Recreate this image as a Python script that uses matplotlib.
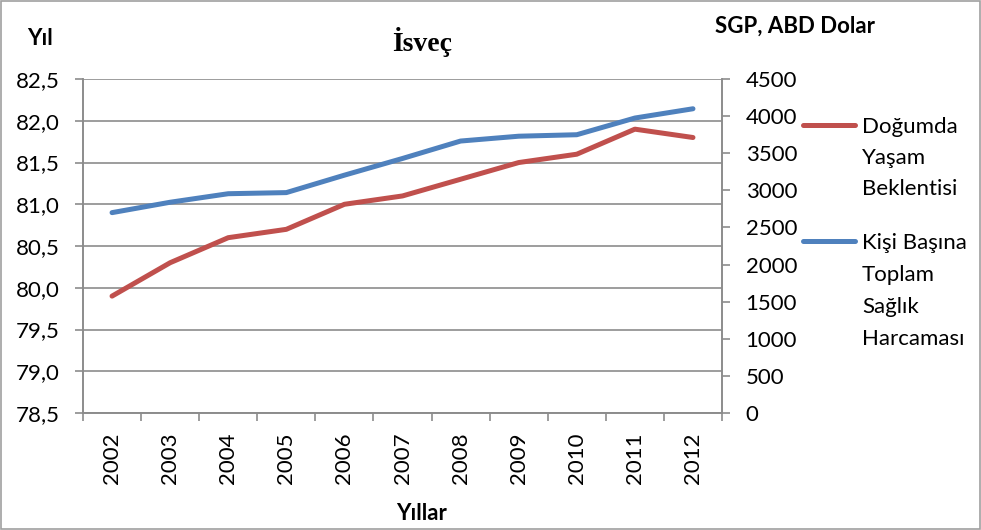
import matplotlib.pyplot as plt
from matplotlib.lines import Line2D
from matplotlib.patches import Rectangle

# ─── DATA ──────────────────────────────────────────────────────────────────────
YEARS = ["2002", "2003", "2004", "2005", "2006", "2007",
         "2008", "2009", "2010", "2011", "2012"]
LIFE_EXP = [79.9, 80.3, 80.6, 80.7, 81.0, 81.1, 81.3, 81.5, 81.6, 81.9, 81.8]
HEALTH_SPEND = [2700, 2840, 2955, 2970, 3205, 3430, 3665, 3730, 3750, 3975, 4100]
LEFT_TICKS = [78.5, 79.0, 79.5, 80.0, 80.5, 81.0, 81.5, 82.0, 82.5]
RIGHT_TICKS = list(range(0, 4501, 500))
LABEL_LIFE = ["Doğumda", "Yaşam", "Beklentisi"]
LABEL_SPEND = ["Kişi Başına", "Toplam", "Sağlık", "Harcaması"]
# ────────────────────────────────────────────────────────────────────────────────

RED = "#C0504D"
BLUE = "#4F81BD"
GRID = "#8C8C8C"
FONT = ["Lato", "DejaVu Sans"]
FS = 16

plt.rcParams["font.family"] = FONT
plt.rcParams["font.size"] = FS

fig = plt.figure(figsize=(9.81, 5.30), dpi=100)
fig.patches.append(Rectangle((0.001, 0.001), 0.998, 0.998, transform=fig.transFigure,
                             fill=False, edgecolor="#A0A0A0", lw=1.2))

ax = fig.add_axes([0.0846, 0.2208, 0.6514, 0.630])
ax2 = ax.twinx()

x = list(range(len(YEARS)))
ax.plot(x, LIFE_EXP, color=RED, lw=3.6, solid_capstyle="round", zorder=3)
ax2.plot(x, HEALTH_SPEND, color=BLUE, lw=3.6, solid_capstyle="round", zorder=3)

ax.set_xlim(-0.5, len(YEARS) - 0.5)
ax.set_ylim(LEFT_TICKS[0], LEFT_TICKS[-1])
ax2.set_ylim(RIGHT_TICKS[0], RIGHT_TICKS[-1])

ax.set_yticks(LEFT_TICKS)
ax.set_yticklabels([f"{v:.1f}".replace(".", ",") for v in LEFT_TICKS])
ax2.set_yticks(RIGHT_TICKS)
ax2.set_yticklabels([str(v) for v in RIGHT_TICKS])

# category labels between boundary ticks, like Excel
ax.set_xticks(x)
ax.set_xticklabels(YEARS, rotation=90)
ax.tick_params(axis="x", length=0, pad=14)
ax.set_xticks([i - 0.5 for i in range(len(YEARS) + 1)], minor=True)
ax.tick_params(axis="x", which="minor", length=6, color=GRID, width=1.2)

ax.yaxis.grid(True, color=GRID, lw=1.2)
ax.set_axisbelow(True)
ax.tick_params(axis="y", length=6, color=GRID, width=1.2, pad=11)
ax2.tick_params(axis="y", length=6, color=GRID, width=1.2, pad=11)

for a in (ax, ax2):
    a.spines["top"].set_visible(False)
    for side in ("left", "right", "bottom"):
        a.spines[side].set_color(GRID)
        a.spines[side].set_linewidth(1.2)

fig.text(0.041, 0.928, "Yıl", fontsize=FS, fontweight="bold", ha="center", va="center")
fig.text(0.43, 0.92, "İsveç", fontsize=20, fontweight="bold",
         family=["Liberation Serif", "DejaVu Serif"], ha="center", va="center")
fig.text(0.81, 0.95, "SGP, ABD Dolar", fontsize=FS, fontweight="bold", ha="center", va="center")
fig.text(0.43, 0.032, "Yıllar", fontsize=FS, fontweight="bold", ha="center", va="center")

# legend drawn by hand: swatch aligned with first line of a wrapped label
def legend_entry(y_first, color, lines, step=31):
    y0 = 1 - y_first / 530
    fig.add_artist(Line2D([803 / 981, 855 / 981], [y0, y0], transform=fig.transFigure,
                          color=color, lw=3.6, solid_capstyle="round"))
    for i, s in enumerate(lines):
        fig.text(862 / 981, 1 - (y_first + 2 + i * step) / 530, s,
                 ha="left", va="center", fontsize=FS)

legend_entry(125, RED, LABEL_LIFE)
legend_entry(241, BLUE, LABEL_SPEND, step=32)

fig.savefig("out.png", dpi=100)
